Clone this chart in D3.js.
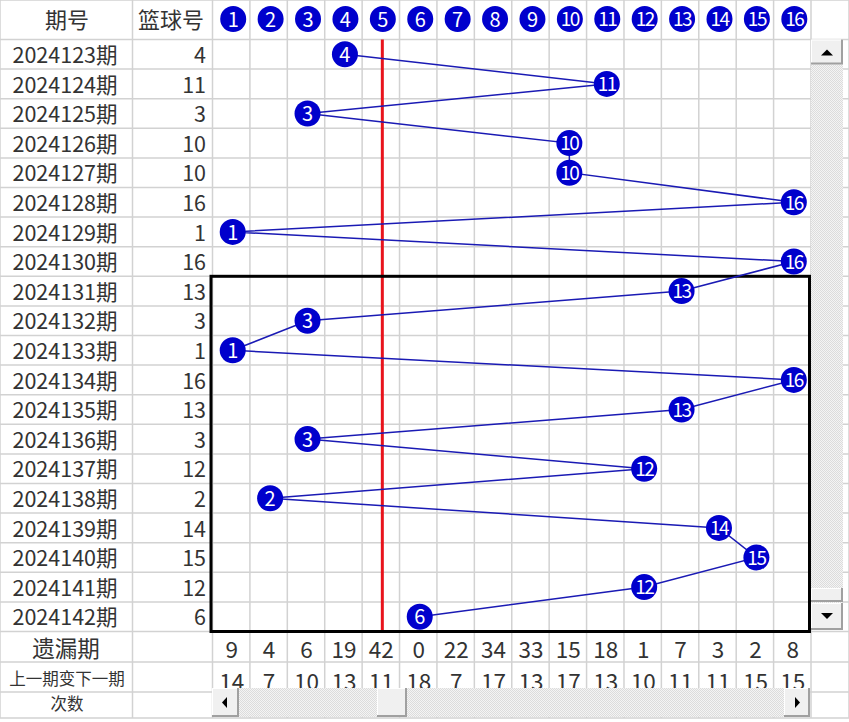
<!DOCTYPE html>
<html><head><meta charset="utf-8">
<script src="https://cdn.jsdelivr.net/npm/d3@7/dist/d3.min.js"></script>
<style>body{margin:0;background:#fff}svg{display:block}</style>
</head><body>
<svg id="c" width="849" height="722"></svg>
<script>
const periods = ["2024123期","2024124期","2024125期","2024126期","2024127期","2024128期","2024129期","2024130期","2024131期","2024132期","2024133期","2024134期","2024135期","2024136期","2024137期","2024138期","2024139期","2024140期","2024141期","2024142期"];
const balls = [4,11,3,10,10,16,1,16,13,3,1,16,13,3,12,2,14,15,12,6];
const numbers = [1,2,3,4,5,6,7,8,9,10,11,12,13,14,15,16];
const missing = [9,4,6,19,42,0,22,34,33,15,18,1,7,3,2,8];
const changes = [14,7,10,13,11,18,7,17,13,17,13,10,11,11,15,15];
const headerLabels = ["期号","篮球号"];
const footerLabels = ["遗漏期","上一期变下一期","次数"];
const highlightNumber = 5;
const boxFrom = "2024131期";

const W=849,H=722;
const svg=d3.select("#c");
const font='"Noto Sans CJK SC","Noto Sans",sans-serif';
const x=d3.scaleBand().domain(numbers).range([212.5,811]);
const y=d3.scaleBand().domain(periods).range([39.5,631.5]);
const off=1.5;
const cx=n=>x(n)+x.bandwidth()/2+off;
const cy=p=>y(p)+y.bandwidth()/2;
const gridC="#d2d2d2";

svg.append("rect").attr("width",W).attr("height",H).attr("fill","#fff");

// grid
const g=svg.append("g").attr("stroke",gridC).attr("stroke-width",1.5);
const colEdges=[0,132.5].concat(numbers.map(n=>x(n))).concat([811,849]);
colEdges.forEach(e=>g.append("line").attr("x1",e).attr("x2",e).attr("y1",0).attr("y2",718));
const rowEdges=[0,39.5].concat(periods.map(p=>y(p)+y.bandwidth())).concat([662,692,718]);
rowEdges.forEach(e=>g.append("line").attr("x1",0).attr("x2",W).attr("y1",e).attr("y2",e));

// header
const tc="#333";
svg.append("text").attr("x",67).attr("y",20).attr("dy","0.36em").attr("text-anchor","middle")
  .attr("font-family",font).attr("font-size",22).attr("fill",tc).text(headerLabels[0]);
svg.append("text").attr("x",171).attr("y",20).attr("dy","0.36em").attr("text-anchor","middle")
  .attr("font-family",font).attr("font-size",22).attr("fill",tc).text(headerLabels[1]);
const hg=svg.append("g");
hg.selectAll("circle").data(numbers).join("circle").attr("cx",d=>cx(d)+0.5).attr("cy",19).attr("r",13).attr("fill","#0000cc");
hg.selectAll("text").data(numbers).join("text").attr("x",d=>cx(d)+0.5).attr("y",19.5).attr("dy","0.36em")
  .attr("text-anchor","middle").attr("font-family",font).attr("font-size",d=>d>=10?19:20).attr("fill","#fff")
  .attr("letter-spacing",d=>d>=10?-1.5:0).text(d=>d);

// row labels
const rg=svg.append("g").attr("font-family",font).attr("fill",tc);
rg.selectAll("text.p").data(periods).join("text").attr("class","p").attr("x",65).attr("y",d=>cy(d)+1).attr("dy","0.36em")
  .attr("text-anchor","middle").attr("font-size",21.5).text(d=>d);
rg.selectAll("text.b").data(balls).join("text").attr("class","b").attr("x",206).attr("y",(d,i)=>cy(periods[i])+1).attr("dy","0.36em")
  .attr("text-anchor","end").attr("font-size",21.5).text(d=>d);

// red line
svg.append("line").attr("x1",cx(highlightNumber)).attr("x2",cx(highlightNumber)).attr("y1",39.5).attr("y2",631.5)
  .attr("stroke","#e8141c").attr("stroke-width",3);

// black box
const bt=y(boxFrom);
svg.append("rect").attr("x",211).attr("y",bt).attr("width",809.5-211).attr("height",631.5-bt)
  .attr("fill","none").attr("stroke","#000").attr("stroke-width",3);

// connecting line
const pts=balls.map((b,i)=>[cx(b),cy(periods[i])]);
svg.append("path").attr("d",d3.line()(pts)).attr("fill","none").attr("stroke","#1a1ab4").attr("stroke-width",1.5);

// data circles
const dg=svg.append("g");
dg.selectAll("circle").data(balls).join("circle").attr("cx",d=>cx(d)).attr("cy",(d,i)=>cy(periods[i])).attr("r",13)
  .attr("fill","#0000cc");
dg.selectAll("text").data(balls).join("text").attr("x",d=>cx(d)).attr("y",(d,i)=>cy(periods[i])+0.5).attr("dy","0.36em")
  .attr("text-anchor","middle").attr("font-family",font).attr("font-size",d=>d>=10?19:20).attr("fill","#fff")
  .attr("letter-spacing",d=>d>=10?-1.5:0).text(d=>d);

// footer
svg.append("text").attr("x",66).attr("y",649).attr("dy","0.36em").attr("text-anchor","middle")
  .attr("font-family",font).attr("font-size",22.5).attr("fill",tc).text(footerLabels[0]);
svg.append("text").attr("x",67).attr("y",679).attr("dy","0.36em").attr("text-anchor","middle")
  .attr("font-family",font).attr("font-size",16.5).attr("fill",tc).text(footerLabels[1]);
svg.append("text").attr("x",67).attr("y",704).attr("dy","0.36em").attr("text-anchor","middle")
  .attr("font-family",font).attr("font-size",16.5).attr("fill",tc).text(footerLabels[2]);
const fg=svg.append("g").attr("font-family",font).attr("fill",tc).attr("text-anchor","middle");
fg.selectAll("text.m").data(missing).join("text").attr("class","m").attr("x",(d,i)=>cx(numbers[i])-1).attr("y",650).attr("dy","0.36em")
  .attr("font-size",22.5).text(d=>d);
fg.selectAll("text.c").data(changes).join("text").attr("class","c").attr("x",(d,i)=>cx(numbers[i])-1).attr("y",682).attr("dy","0.36em")
  .attr("font-size",22.5).text(d=>d);

// scrollbars
const defs=svg.append("defs");
const pat=defs.append("pattern").attr("id","dots").attr("width",2).attr("height",2).attr("patternUnits","userSpaceOnUse");
pat.append("rect").attr("width",2).attr("height",2).attr("fill","#f4f4f4");
pat.append("rect").attr("width",1).attr("height",1).attr("fill","#dcdcdc");
pat.append("rect").attr("x",1).attr("y",1).attr("width",1).attr("height",1).attr("fill","#dcdcdc");
function button(x0,y0,w,h){
  svg.append("rect").attr("x",x0).attr("y",y0).attr("width",w).attr("height",h).attr("fill","#f0f0f0");
  svg.append("path").attr("d",`M${x0+0.5},${y0+h}V${y0+0.5}H${x0+w}`).attr("stroke","#fff").attr("fill","none");
  svg.append("path").attr("d",`M${x0},${y0+h-1}H${x0+w-1}V${y0}`).attr("stroke","#a0a0a0").attr("stroke-width",2).attr("fill","none");
}
svg.append("rect").attr("x",811).attr("y",64).attr("width",32).attr("height",540).attr("fill","url(#dots)");
button(811,39.5,32,25);
svg.append("path").attr("d","M821,55.5L827,49.5L833,55.5Z").attr("fill","#000");
button(811,588,32,14);
button(811,603,32,27);
svg.append("path").attr("d","M821,613L827,619L833,613Z").attr("fill","#000");
svg.append("rect").attr("x",212).attr("y",688).attr("width",598).attr("height",29).attr("fill","url(#dots)");
button(212,688,27,29);
svg.append("path").attr("d","M222,702.5L227,697V708Z").attr("fill","#000");
button(377,688,30,29);
button(784,688,26,29);
svg.append("path").attr("d","M800,702.5L795,697V708Z").attr("fill","#000");
</script>
</body></html>
